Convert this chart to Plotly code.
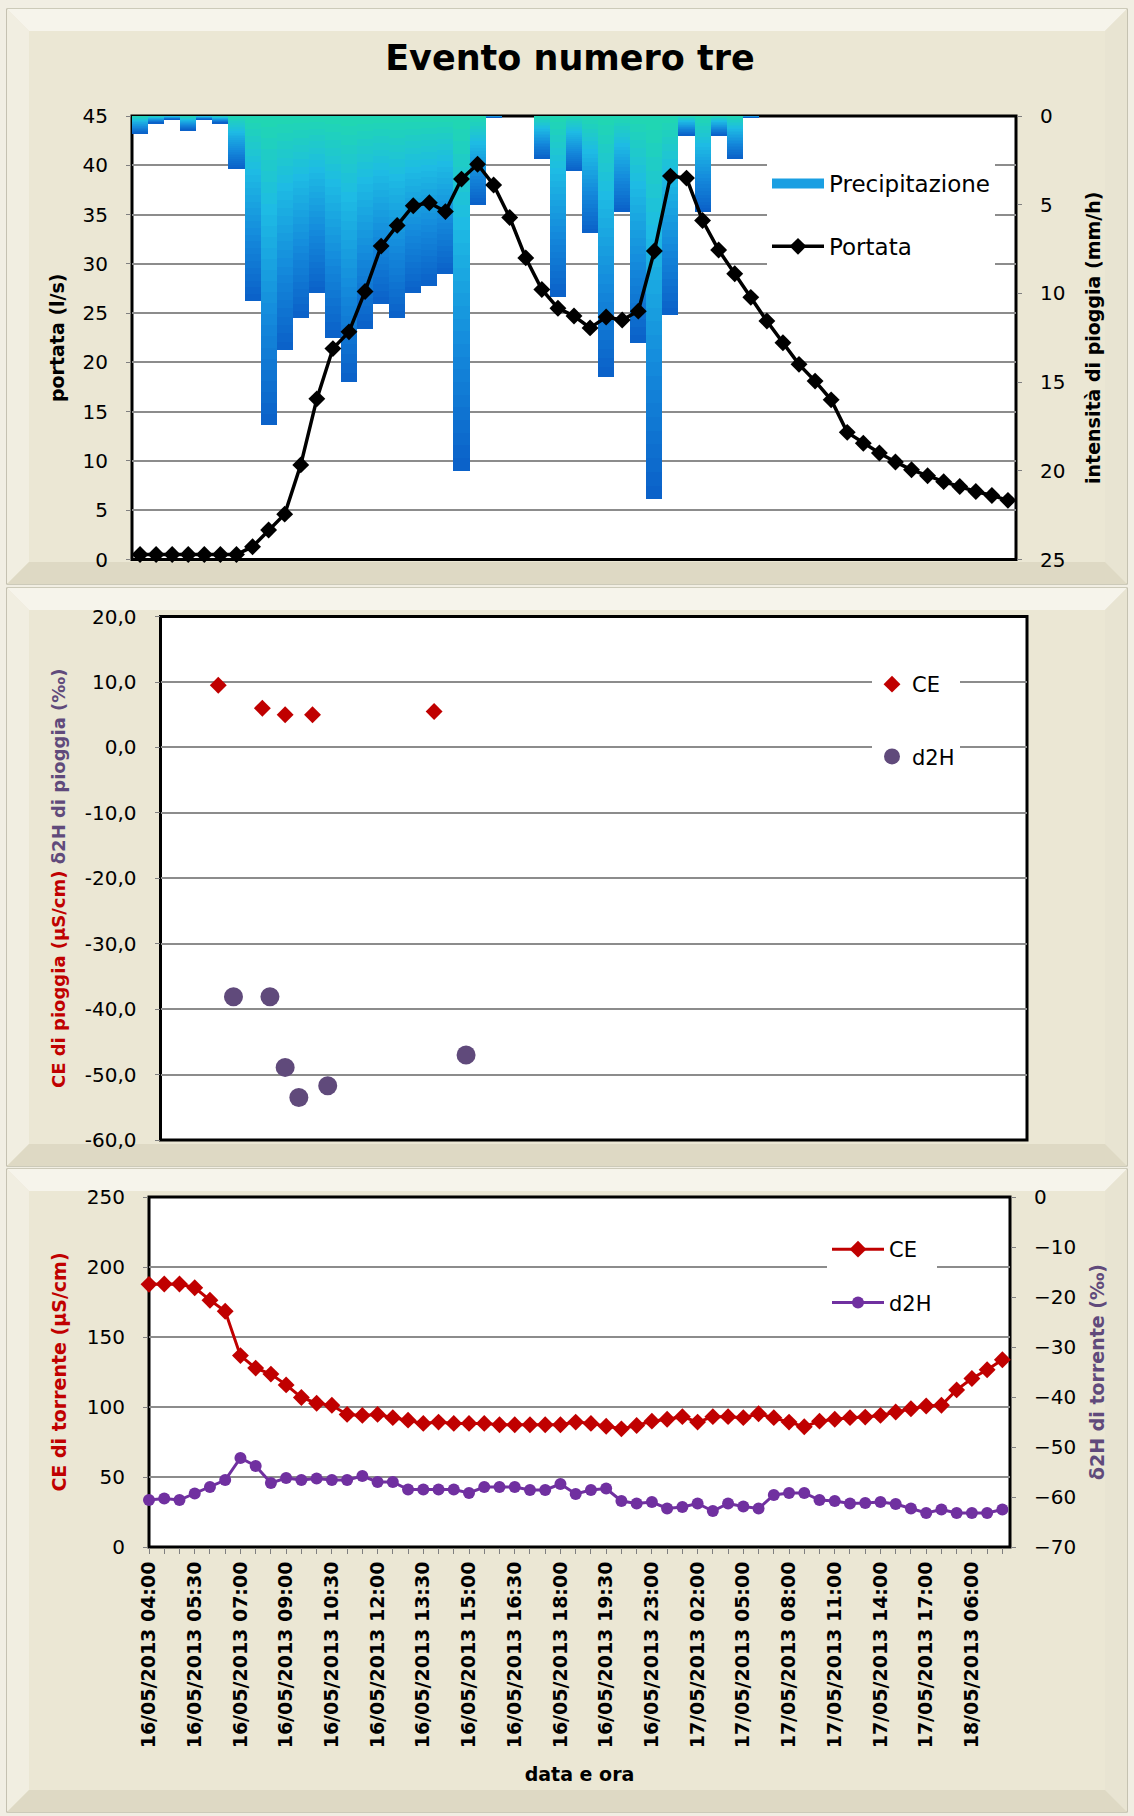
import plotly.graph_objects as go

W, H = 1134, 1816

# ---------------- data ----------------
# Evento numero tre: portata (l/s) and rain intensity (mm/h), one value per time step
portata = [0.5, 0.5, 0.5, 0.5, 0.5, 0.5, 0.5, 1.3, 3.0, 4.6,
           9.6, 16.3, 21.4, 23.1, 27.2, 31.8, 33.9, 35.9, 36.2, 35.3,
           38.6, 40.1, 38.0, 34.7, 30.6, 27.4, 25.5, 24.7, 23.5, 24.6,
           24.3, 25.2, 31.3, 38.9, 38.7, 34.4, 31.4, 29.0, 26.6, 24.2,
           22.0, 19.8, 18.1, 16.2, 12.9, 11.8, 10.8, 9.9, 9.1, 8.5,
           7.9, 7.4, 6.9, 6.5, 6.0]
precipitazione = [1.0, 0.4, 0.2, 0.8, 0.2, 0.4, 3.0, 10.4, 17.4, 13.2,
                  11.4, 10.0, 12.5, 15.0, 12.0, 10.6, 11.4, 10.0, 9.6, 8.9,
                  20.0, 5.0, 0.1, 0.0, 0.0, 2.4, 10.2, 3.1, 6.6, 14.7,
                  5.4, 12.8, 21.6, 11.2, 1.1, 5.4, 1.1, 2.4, 0.1, 0.0,
                  0.0, 0.0, 0.0, 0.0, 0.0, 0.0, 0.0, 0.0, 0.0, 0.0,
                  0.0, 0.0, 0.0, 0.0, 0.0]
passo_evento = list(range(len(portata)))

# rain samples: sampling time (h from start) and values
t_ce_pioggia = [3.8, 6.7, 8.2, 10.0, 18.0]
ce_pioggia = [9.5, 6.0, 5.0, 5.0, 5.5]
t_d2h_pioggia = [4.8, 7.2, 8.2, 9.1, 11.0, 20.1]
d2h_pioggia = [-38.1, -38.1, -48.9, -53.5, -51.7, -47.0]

# stream samples
ce_torrente = [187.6, 187.9, 187.9, 185.2, 176.3, 168.4, 136.7, 127.8, 123.5, 115.8,
               106.8, 102.7, 101.2, 94.7, 94.0, 94.7, 92.4, 90.6, 88.3, 89.2,
               88.3, 88.3, 88.3, 87.3, 87.3, 87.3, 87.3, 87.3, 89.2, 88.3,
               86.3, 84.4, 86.8, 89.9, 91.2, 93.1, 89.2, 93.1, 93.1, 92.4,
               95.2, 92.4, 89.2, 85.9, 89.9, 91.2, 92.4, 92.8, 94.0, 96.4,
               98.8, 100.7, 101.2, 112.2, 120.4, 126.6, 133.8]
d2h_torrente = [-60.6, -60.3, -60.6, -59.3, -58.0, -56.6, -52.2, -53.8, -57.2, -56.2,
                -56.6, -56.3, -56.6, -56.6, -55.8, -57.0, -57.0, -58.5, -58.5, -58.5,
                -58.5, -59.2, -58.0, -58.0, -58.0, -58.6, -58.6, -57.4, -59.4, -58.6,
                -58.3, -60.8, -61.3, -61.0, -62.3, -62.0, -61.3, -62.8, -61.3, -61.9,
                -62.3, -59.6, -59.2, -59.2, -60.6, -60.8, -61.3, -61.2, -61.0, -61.4,
                -62.3, -63.2, -62.5, -63.2, -63.2, -63.2, -62.5]
campione = list(range(len(ce_torrente)))
etichette_data = ["16/05/2013 04:00", "16/05/2013 05:30", "16/05/2013 07:00",
                  "16/05/2013 09:00", "16/05/2013 10:30", "16/05/2013 12:00",
                  "16/05/2013 13:30", "16/05/2013 15:00", "16/05/2013 16:30",
                  "16/05/2013 18:00", "16/05/2013 19:30", "16/05/2013 23:00",
                  "17/05/2013 02:00", "17/05/2013 05:00", "17/05/2013 08:00",
                  "17/05/2013 11:00", "17/05/2013 14:00", "17/05/2013 17:00",
                  "18/05/2013 06:00"]
passo_etichette = 3

# ---------------- styling ----------------
FONT = "DejaVu Sans"
RED = "#C00000"
PURPLE_GREY = "#604A7B"
PURPLE = "#7030A0"
GRID = "#8C8C8C"
TICK = "#7F7F7F"


def fx(px):
    return px / W


def fy(py):
    return 1 - py / H


# plot area rectangles in page pixels (left, top, right, bottom)
TOP_AREA = (132, 116, 1016, 559.5)
MID_AREA = (160.5, 616.6, 1027, 1140)
BOT_AREA = (149, 1197, 1010, 1547)


def dom_x(a):
    return [fx(a[0]), fx(a[2])]


def dom_y(a):
    return [fy(a[3]), fy(a[1])]


# gradient for the rain bars: top of each bar teal, bottom deep blue
GRAD = [(0.0, (32, 216, 176)), (0.3, (30, 188, 228)), (0.65, (20, 138, 220)), (1.0, (10, 96, 200))]


def grad_color(t):
    for (t0, c0), (t1, c1) in zip(GRAD[:-1], GRAD[1:]):
        if t <= t1:
            f = (t - t0) / (t1 - t0)
            return "rgb(%d,%d,%d)" % tuple(round(a + (b - a) * f) for a, b in zip(c0, c1))
    return "rgb(%d,%d,%d)" % GRAD[-1][1]


def dec_label(v):
    # Excel-style label: comma decimal and plain hyphen minus
    return ("%.1f" % v).replace(".", ",")


fig = go.Figure()

# rain bars, each bar split in equal slices so the shading runs along its length
N_SLICES = 28
for k in range(N_SLICES):
    fig.add_trace(go.Bar(
        x=passo_evento, y=[v / N_SLICES for v in precipitazione],
        marker=dict(color=grad_color((k + 0.5) / N_SLICES), line=dict(width=0)),
        xaxis="x", yaxis="y", showlegend=False, hoverinfo="skip"))

# legend swatch for the rain series
fig.add_trace(go.Scatter(
    x=[None], y=[None], mode="lines", name="Precipitazione",
    line=dict(color="#1A9FE2", width=13), xaxis="x", yaxis="y",
    legend="legend", legendgroup="prec"))

fig.add_trace(go.Scatter(
    x=passo_evento, y=portata, mode="lines+markers", name="Portata",
    line=dict(color="black", width=3.5),
    marker=dict(symbol="diamond", size=13, color="black"),
    xaxis="x", yaxis="y2", legend="legend", legendgroup="port", cliponaxis=False))

# rain chemistry scatter
fig.add_trace(go.Scatter(
    x=t_ce_pioggia, y=ce_pioggia, mode="markers", name="CE",
    marker=dict(symbol="diamond", size=13, color=RED),
    xaxis="x2", yaxis="y3", legend="legend2", legendgroup="cep"))
fig.add_trace(go.Scatter(
    x=t_d2h_pioggia, y=d2h_pioggia, mode="markers", name="d2H",
    marker=dict(symbol="circle", size=19, color=PURPLE_GREY),
    xaxis="x2", yaxis="y3", legend="legend2", legendgroup="d2p"))

# stream chemistry lines
fig.add_trace(go.Scatter(
    x=campione, y=ce_torrente, mode="lines+markers", name="CE",
    line=dict(color=RED, width=3),
    marker=dict(symbol="diamond", size=13, color=RED),
    xaxis="x3", yaxis="y4", legend="legend3", legendgroup="cet", cliponaxis=False))
fig.add_trace(go.Scatter(
    x=campione, y=d2h_torrente, mode="lines+markers", name="d2H",
    line=dict(color=PURPLE, width=3),
    marker=dict(symbol="circle", size=12, color=PURPLE),
    xaxis="x3", yaxis="y5", legend="legend3", legendgroup="d2t", cliponaxis=False))

# ---------------- panels ----------------
shapes = []
BASE, TOPC, LEFTC, RIGHTC, BOTC, EDGE = "#EBE7D4", "#F6F4EB", "#F1EEE1", "#E8E4D2", "#DED9C4", "#A8A590"


def panel(x0, y0, x1, y1, b=22):
    def pt(x, y):
        return "%.5f,%.5f" % (fx(x), fy(y))
    out = [dict(type="rect", xref="paper", yref="paper", x0=fx(x0), x1=fx(x1),
                y0=fy(y1), y1=fy(y0), fillcolor=BASE, line=dict(color=EDGE, width=1.2),
                layer="below")]
    bands = [
        ([(x0, y0), (x1, y0), (x1 - b, y0 + b), (x0 + b, y0 + b)], TOPC),
        ([(x0, y0), (x0 + b, y0 + b), (x0 + b, y1 - b), (x0, y1)], LEFTC),
        ([(x1, y0), (x1, y1), (x1 - b, y1 - b), (x1 - b, y0 + b)], RIGHTC),
        ([(x0, y1), (x0 + b, y1 - b), (x1 - b, y1 - b), (x1, y1)], BOTC),
    ]
    for pts, col in bands:
        path = "M" + " L".join(pt(*p) for p in pts) + " Z"
        out.append(dict(type="path", xref="paper", yref="paper", path=path,
                        fillcolor=col, line=dict(width=0), layer="below"))
    return out


shapes += panel(7, 9, 1127, 584)
shapes += panel(7, 588, 1127, 1166)
shapes += panel(7, 1169, 1127, 1812)

for a in (TOP_AREA, MID_AREA, BOT_AREA):
    shapes.append(dict(type="rect", xref="paper", yref="paper",
                       x0=fx(a[0]), x1=fx(a[2]), y0=fy(a[3]), y1=fy(a[1]),
                       fillcolor="white", line=dict(color="black", width=3), layer="below"))

tickfont = dict(family=FONT, size=20, color="black")


def yax(**kw):
    base = dict(showline=False, zeroline=False, ticks="outside", ticklen=5, tickcolor=TICK,
                tickwidth=1.3, tickfont=tickfont, automargin=False, ticklabelstandoff=14,
                gridcolor=GRID, gridwidth=1.5)
    base.update(kw)
    return base


mid_ticks = list(range(-60, 21, 10))

fig.update_layout(
    width=W, height=H, margin=dict(l=0, r=0, t=0, b=0),
    paper_bgcolor="#F1EEE3", plot_bgcolor="rgba(0,0,0,0)",
    template="none",
    font=dict(family=FONT, color="black"),
    barmode="stack", bargap=0,
    shapes=shapes,
    title=dict(text="<b>Evento numero tre</b>", x=fx(570), xanchor="center",
               y=fy(58), yanchor="middle", font=dict(family=FONT, size=35, color="black")),
    # top chart
    xaxis=dict(domain=dom_x(TOP_AREA), anchor="y", range=[-0.5, len(portata) - 0.5],
               showticklabels=False, showgrid=False, zeroline=False, ticks="", showline=False),
    yaxis=yax(domain=dom_y(TOP_AREA), anchor="x", side="right", range=[25, 0],
              tickvals=[0, 5, 10, 15, 20, 25], showgrid=False,
              title=dict(text="<b>intensità di pioggia (mm/h)</b>", standoff=22,
                         font=dict(family=FONT, size=19))),
    yaxis2=yax(overlaying="y", anchor="x", side="left", range=[0, 45], dtick=5,
               showgrid=True,
               title=dict(text="<b>portata (l/s)</b>", standoff=12,
                          font=dict(family=FONT, size=19))),
    # middle chart
    xaxis2=dict(domain=dom_x(MID_AREA), anchor="y3", range=[0, 57], visible=False),
    yaxis3=yax(domain=dom_y(MID_AREA), anchor="x2", range=[-60, 20],
               tickvals=mid_ticks, ticktext=[dec_label(v) for v in mid_ticks],
               showgrid=True,
               title=dict(text="<b><span style='color:%s'>CE di pioggia (µS/cm)</span> "
                               "<span style='color:%s'>δ2H di pioggia (‰)</span></b>"
                               % (RED, PURPLE_GREY),
                          standoff=14, font=dict(family=FONT, size=18))),
    # bottom chart
    xaxis3=dict(domain=dom_x(BOT_AREA), anchor="y4", range=[0, 56.5],
                tickvals=campione,
                ticktext=["<b>%s</b>" % etichette_data[i // passo_etichette]
                          if i % passo_etichette == 0 else "" for i in campione],
                tickangle=-90, ticks="outside", ticklen=6, tickcolor=TICK, tickwidth=1.3,
                tickfont=dict(family=FONT, size=19, color="black"),
                showgrid=False, zeroline=False, showline=False, automargin=False,
                title=dict(text="<b>data e ora</b>", standoff=20,
                           font=dict(family=FONT, size=19))),
    yaxis4=yax(domain=dom_y(BOT_AREA), anchor="x3", range=[0, 250], dtick=50,
               showgrid=True,
               title=dict(text="<b>CE di torrente (µS/cm)</b>", standoff=15,
                          font=dict(family=FONT, size=19, color=RED))),
    yaxis5=yax(overlaying="y4", anchor="x3", side="right", range=[-70, 0], dtick=10,
               showgrid=False,
               title=dict(text="<b>δ2H di torrente (‰)</b>", standoff=15,
                          font=dict(family=FONT, size=19, color=PURPLE_GREY))),
    legend=dict(x=fx(767), y=fy(162), xanchor="left", yanchor="top", bgcolor="white",
                font=dict(family=FONT, size=23), itemwidth=52, tracegroupgap=30,
                traceorder="grouped"),
    legend2=dict(x=fx(872), y=fy(664), xanchor="left", yanchor="top", bgcolor="white",
                 font=dict(family=FONT, size=21), itemwidth=30, tracegroupgap=42,
                 traceorder="grouped"),
    legend3=dict(x=fx(827), y=fy(1229), xanchor="left", yanchor="top", bgcolor="white",
                 font=dict(family=FONT, size=21), itemwidth=52, tracegroupgap=23,
                 traceorder="grouped"),
)

fig.write_html("out.html")
